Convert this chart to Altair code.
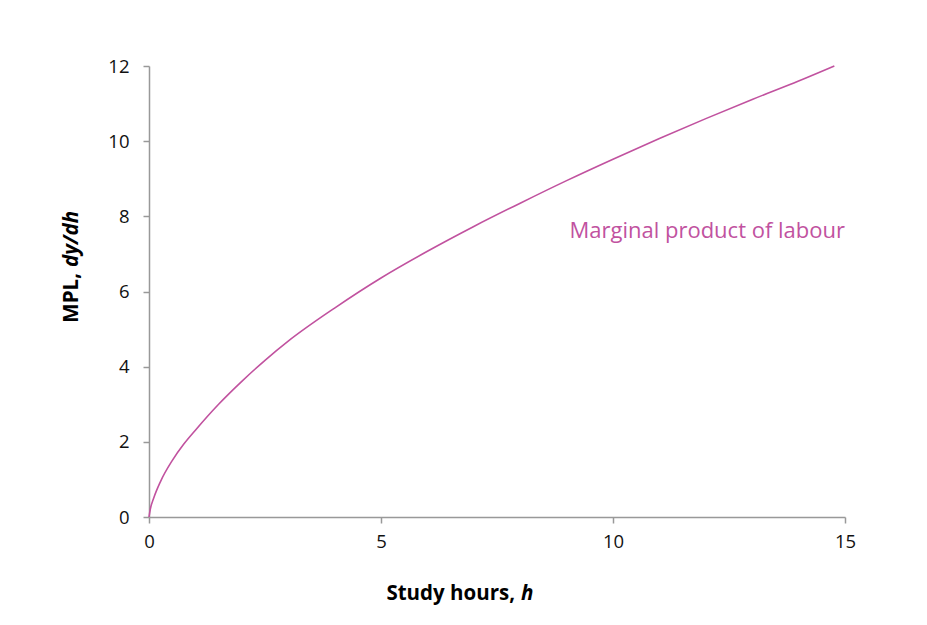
import altair as alt
import pandas as pd

# Study hours and the marginal product of labour at each point
hours = [0, 0.03, 0.1, 0.25, 0.5, 0.75, 1, 1.5, 2, 2.5, 3, 4, 5, 6, 7, 8, 9, 10,
         11, 12, 13, 14, 14.77]
mpl = [0, 0.22, 0.5, 0.95, 1.5, 1.94, 2.31, 3.0, 3.61, 4.17, 4.68, 5.56, 6.36, 7.07,
       7.73, 8.35, 8.95, 9.52, 10.07, 10.60, 11.11, 11.60, 12.0]

x_ticks = [0, 5, 10, 15]
y_ticks = [0, 2, 4, 6, 8, 10, 12]

curve_label = "Marginal product of labour"
curve_color = "#c1529f"
font = "Open Sans"

W, H = 696, 451

df = pd.DataFrame({"h": hours, "mpl": mpl})

x_scale = alt.Scale(domain=[0, 15], nice=False)
y_scale = alt.Scale(domain=[0, 12], nice=False)

line = alt.Chart(df).mark_line(
    color=curve_color, strokeWidth=1.6, interpolate="monotone"
).encode(
    x=alt.X("h:Q", scale=x_scale,
            axis=alt.Axis(values=x_ticks, title=None, labelPadding=9, labelFlush=False)),
    y=alt.Y("mpl:Q", scale=y_scale,
            axis=alt.Axis(values=y_ticks, title=None, labelPadding=14)),
)

label = alt.Chart(pd.DataFrame({"h": [15], "mpl": [7.6], "t": [curve_label]})).mark_text(
    align="right", baseline="middle", font=font, fontSize=22, color=curve_color
).encode(x=alt.X("h:Q", scale=x_scale), y=alt.Y("mpl:Q", scale=y_scale), text="t:N")

title_df = pd.DataFrame({"a": [0]})
title_size = 20.5

x_title_a = alt.Chart(title_df).mark_text(
    align="right", baseline="middle", font=font, fontSize=title_size,
    fontWeight="bold", color="#000"
).encode(x=alt.value(366), y=alt.value(528), text=alt.value("Study hours,"))
x_title_b = alt.Chart(title_df).mark_text(
    align="left", baseline="middle", font=font, fontSize=title_size, fontWeight="bold",
    fontStyle="italic", color="#000"
).encode(x=alt.value(372), y=alt.value(528), text=alt.value("h"))

y_title_a = alt.Chart(title_df).mark_text(
    align="right", baseline="middle", angle=270, font=font, fontSize=title_size,
    fontWeight="bold", color="#000"
).encode(x=alt.value(-77), y=alt.value(207), text=alt.value("MPL,"))
y_title_b = alt.Chart(title_df).mark_text(
    align="left", baseline="middle", angle=270, font=font, fontSize=title_size,
    fontWeight="bold", fontStyle="italic", color="#000"
).encode(x=alt.value(-77), y=alt.value(201), text=alt.value("dy/dh"))

chart = alt.layer(line, label, x_title_a, x_title_b, y_title_a, y_title_b).properties(
    width=W, height=H,
    autosize=alt.AutoSizeParams(type="none"),
    padding={"left": 149, "top": 66, "right": 927 - 149 - W, "bottom": 625 - 66 - H},
).configure_view(stroke=None).configure_axis(
    grid=False, domainColor="#999", domainWidth=1.5, tickColor="#999", tickWidth=1.5,
    tickSize=6, labelFont=font, labelFontSize=18.5, labelColor="#111",
)

chart.save("out.html", embed_options={"renderer": "svg", "actions": False})
